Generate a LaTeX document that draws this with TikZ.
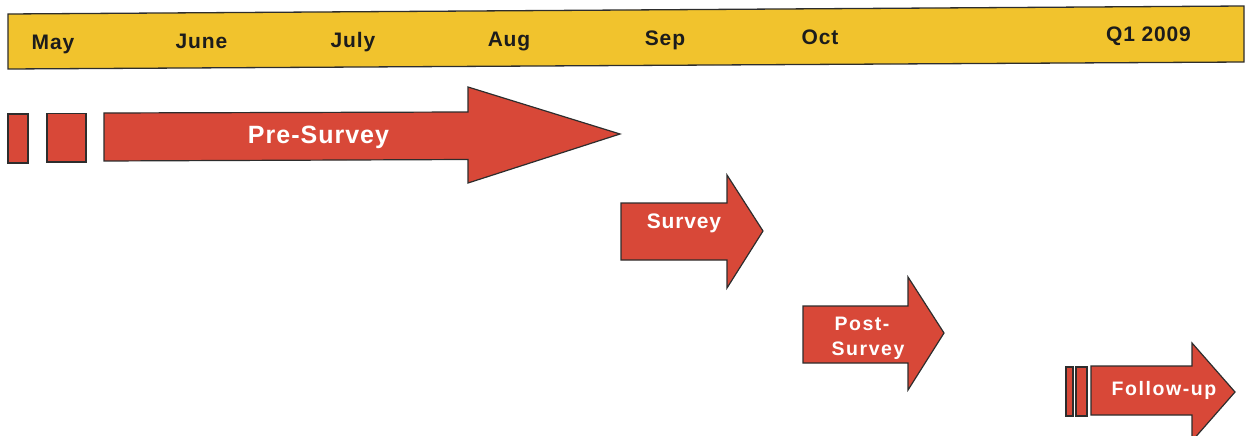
\documentclass[tikz,border=0pt]{standalone}
\usepackage{fontspec}
\setmainfont{Liberation Sans}
\newfontfamily\lsA[LetterSpace=4]{Liberation Sans}
\newfontfamily\lsB[LetterSpace=8]{Liberation Sans}
\definecolor{barfill}{RGB}{241,195,45}
\definecolor{redfill}{RGB}{216,72,56}
\definecolor{edge}{RGB}{45,45,45}
\definecolor{monthtxt}{RGB}{28,28,28}
\tikzset{
  bar/.style={fill=barfill, draw=edge, line width=1.3pt},
  redshape/.style={fill=redfill, draw=edge, line width=1.2pt, line join=miter},
  month/.style={anchor=base, inner sep=0pt, text=monthtxt, font=\lsA\bfseries\fontsize{21}{24}\selectfont},
  arrowtxt/.style={anchor=base, inner sep=0pt, text=white},
}
\begin{document}
\begin{tikzpicture}[x=1pt,y=-1pt]
\useasboundingbox (0,0) rectangle (1250,436);
\begin{scope}
\clip (0,0) rectangle (1250,436);
% timeline bar
\draw[bar] (8,14) -- (1244,6) -- (1244,62) -- (8,69) -- cycle;
\node[month] (may)  at (53,49)    {May};
\node[month] (june) at (201.5,48.1) {June};
\node[month] (july) at (353,47.2) {July};
\node[month] (aug)  at (509,46.2) {Aug};
\node[month] (sep)  at (665,45.2) {Sep};
\node[month] (oct)  at (820,44.2) {Oct};
\node[month] (q1)   at (1148.5,42) {Q1 2009};
% pre-survey
\draw[redshape] (8,114) rectangle (28,163);
\draw[redshape] (47,113.5) rectangle (86,162);
\draw[redshape] (104,113) -- (468,112) -- (468,87) -- (620,134) -- (468,183) -- (468,159.5) -- (104,161) -- cycle;
\node[arrowtxt, font=\lsA\bfseries\fontsize{25}{28}\selectfont] (pre) at (318.5,143) {Pre-Survey};
% survey
\draw[redshape] (621,203) -- (727,203) -- (727,175) -- (763,231) -- (727,288) -- (727,260) -- (621,260) -- cycle;
\node[arrowtxt, font=\lsA\bfseries\fontsize{21}{24}\selectfont] (survey) at (684,228) {Survey};
% post-survey
\draw[redshape] (803,306) -- (908,306) -- (908,277) -- (944,333) -- (908,390) -- (908,363) -- (803,363) -- cycle;
\node[arrowtxt, font=\lsB\bfseries\fontsize{19.5}{22}\selectfont] (post1) at (862,330) {Post-};
\node[arrowtxt, font=\lsB\bfseries\fontsize{19.5}{22}\selectfont] (post2) at (868,355) {Survey};
% follow-up
\draw[redshape] (1066,367) rectangle (1073,416);
\draw[redshape] (1076,367) rectangle (1087,416);
\draw[redshape] (1091,366) -- (1192,366) -- (1192,343) -- (1235,392) -- (1192,441) -- (1192,415) -- (1091,415) -- cycle;
\node[arrowtxt, font=\lsB\bfseries\fontsize{19.5}{22}\selectfont] (follow) at (1164,395.7) {Follow-up};
\end{scope}
\end{tikzpicture}
\end{document}
